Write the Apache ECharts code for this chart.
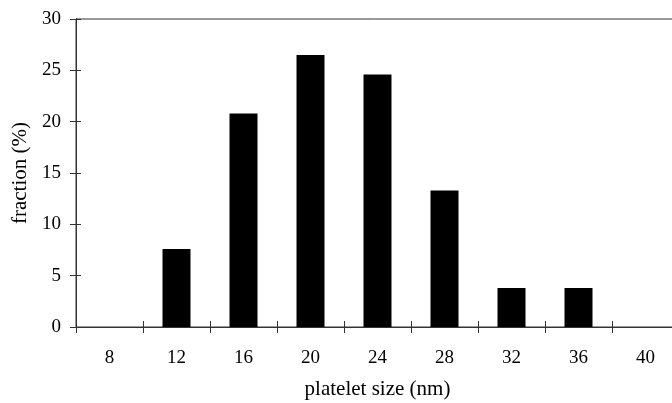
<!DOCTYPE html>
<html>
<head>
<meta charset="utf-8">
<title>platelet size</title>
<script src="https://cdn.jsdelivr.net/npm/echarts@6/dist/echarts.min.js"></script>
<style>
  html, body { margin: 0; padding: 0; background: #fff; }
  #chart { width: 672px; height: 403px; }
</style>
</head>
<body>
<div id="chart"></div>
<script>
// platelet size classes (nm)
const sizes = ['8', '12', '16', '20', '24', '28', '32', '36', '40'];
// fraction per class (%)
const fractions = [0, 7.6, 20.8, 26.5, 24.6, 13.3, 3.8, 3.8, 0];
const yTicks = [0, 5, 10, 15, 20, 25, 30];

const font = 'Liberation Serif';
const ink = '#333';

const chart = echarts.init(document.getElementById('chart'));

// same box for both grids, the second one only carries the inside tick halves
let box = {
  left: 76,
  top: 19,
  width: 603,   // runs past the right edge, like the original
  height: 308,
  outerBoundsMode: 'none',
  containLabel: false,
};

let yBase = {
  type: 'value',
  min: yTicks[0],
  max: yTicks[yTicks.length - 1],
  interval: 5,
  position: 'left',
  splitLine: { show: false },
  axisLine: { show: true, lineStyle: { color: ink, width: 1 } },
};

let xBase = {
  type: 'category',
  data: sizes,
  boundaryGap: true,
  position: 'bottom',
  splitLine: { show: false },
  axisLine: { show: true, lineStyle: { color: ink, width: 1 } },
};

const option = {
  animation: false,
  backgroundColor: '#fff',
  grid: [
    Object.assign({}, box, { show: true, borderColor: ink, borderWidth: 1 }),
    Object.assign({}, box),
  ],
  xAxis: [
    Object.assign({}, xBase, {
      gridIndex: 0,
      axisTick: { show: true, length: 6, lineStyle: { color: ink } },
      axisLabel: { margin: 22, fontFamily: font, fontSize: 19, color: '#000' },
      name: 'platelet size (nm)',
      nameLocation: 'middle',
      nameGap: 52,
      nameTextStyle: { fontFamily: font, fontSize: 21, color: '#000' },
    }),
    Object.assign({}, xBase, {
      gridIndex: 1,
      axisTick: { show: true, inside: true, length: 6, lineStyle: { color: ink } },
      axisLabel: { show: false },
    }),
  ],
  yAxis: [
    Object.assign({}, yBase, {
      gridIndex: 0,
      axisTick: { show: true, length: 6, lineStyle: { color: ink } },
      axisLabel: { margin: 15, fontFamily: font, fontSize: 19, color: '#000' },
      name: 'fraction (%)',
      nameLocation: 'middle',
      nameGap: 43,
      nameTextStyle: { fontFamily: font, fontSize: 21, color: '#000' },
    }),
    Object.assign({}, yBase, {
      gridIndex: 1,
      axisTick: { show: true, inside: true, length: 5, lineStyle: { color: ink } },
      axisLabel: { show: false },
    }),
  ],
  series: [
    {
      type: 'bar',
      xAxisIndex: 0,
      yAxisIndex: 0,
      data: fractions,
      barWidth: 28,
      itemStyle: { color: '#000' },
    },
  ],
};

chart.setOption(option);
</script>
</body>
</html>
